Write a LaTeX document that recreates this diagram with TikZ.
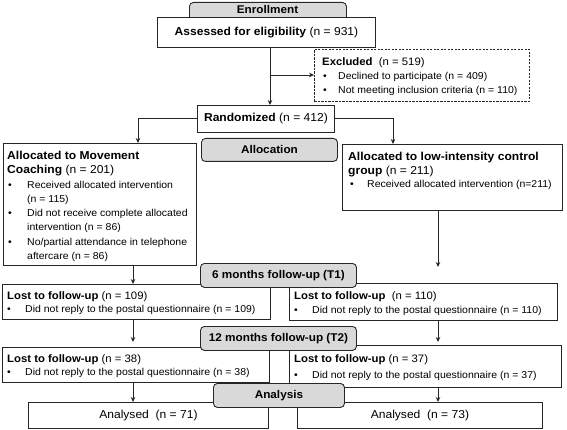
\documentclass[tikz,border=0pt]{standalone}
\usepackage{fontspec}
\setmainfont{Liberation Sans}[FakeStretch=1.05]
\usetikzlibrary{arrows.meta,calc}
\newcommand{\fbody}{\fontsize{10}{11}\selectfont}
\newcommand{\fhead}{\fontsize{10.8}{12}\selectfont}
\newcommand{\fbig}{\fontsize{11.5}{13}\selectfont}
\newcommand{\fstage}{\fontsize{11.2}{13}\selectfont}
\tikzset{
 box/.style={draw=black!85, line width=0.9pt, fill=white, inner sep=0pt, anchor=north west},
 dbox/.style={box, dash pattern=on 2.2pt off 1.3pt},
 stage/.style={box, fill=black!15, rounded corners=4pt, font=\fstage\bfseries},
 arr/.style={-{Stealth[length=5pt,width=4.5pt]}, line width=0.9pt, draw=black!85},
 tx/.style={anchor=base west, inner sep=0pt, font=\fbody},
 hl/.style={anchor=base west, inner sep=0pt, font=\fhead},
 hb/.style={anchor=base west, inner sep=0pt, font=\fbig},
 bl/.style={anchor=base west, inner sep=0pt, font=\fbody},
 ctr/.style={inner sep=0pt},
}
\begin{document}
\begin{tikzpicture}[x=1pt,y=-1pt]
\useasboundingbox (0,0) rectangle (567,430);
% ---------- Enrollment ----------
\node[stage, minimum width=157, minimum height=24] (enr) at (189,2) {};
\node[ctr, font=\fstage\bfseries] (enrt) at (267.5,10) {Enrollment};
\node[box, minimum width=218, minimum height=30, font=\fbig] (assess) at (157,17) {\textbf{Assessed for eligibility} (n = 931)};
% ---------- Excluded ----------
\node[dbox, minimum width=215, minimum height=52] (excl) at (314,49) {};
\node[hl] (ex1) at (322,66) {\textbf{Excluded}\ \ (n = 519)};
\node[bl] (ex2b) at (323,80) {•};
\node[tx] (ex2) at (338,80) {Declined to participate (n = 409)};
\node[bl] (ex3b) at (323,94) {•};
\node[tx] (ex3) at (338,94) {Not meeting inclusion criteria (n = 110)};
% ---------- Randomized / Allocation ----------
\node[box, minimum width=137, minimum height=27, font=\fbig] (rand) at (197,105) {\textbf{Randomized} (n = 412)};
\node[stage, minimum width=136, minimum height=23] (alloc) at (201,138) {Allocation};
% ---------- Left allocation ----------
\node[box, minimum width=193, minimum height=122] (lal) at (3,143) {};
\node[hb] (la1) at (7,160) {\textbf{Allocated to Movement}};
\node[hb] (la2) at (7,174) {\textbf{Coaching} (n = 201)};
\node[bl] (la3b) at (8,188.5) {•};
\node[tx] (la3) at (27,188.5) {Received allocated intervention};
\node[tx] (la4) at (27,202.5) {(n = 115)};
\node[bl] (la5b) at (8,217) {•};
\node[tx] (la5) at (27,217) {Did not receive complete allocated};
\node[tx] (la6) at (27,231) {intervention (n = 86)};
\node[bl] (la7b) at (8,245.5) {•};
\node[tx] (la7) at (27,245.5) {No/partial attendance in telephone};
\node[tx] (la8) at (27,259.5) {aftercare (n = 86)};
% ---------- Right allocation ----------
\node[box, minimum width=220, minimum height=66] (ral) at (342,144) {};
\node[hb] (ra1) at (348,161) {\textbf{Allocated to low-intensity control}};
\node[hb] (ra2) at (348,175) {\textbf{group} (n = 211)};
\node[bl] (ra3b) at (350,188) {•};
\node[tx] (ra3) at (367,188) {Received allocated intervention (n=211)};
% ---------- 6 months ----------
\node[box, minimum width=268, minimum height=35] (l1l) at (2,284) {};
\node[hl] (l1l1) at (7,299) {\textbf{Lost to follow-up} (n = 109)};
\node[bl] (l1l2b) at (7,312.5) {•};
\node[tx] (l1l2) at (25,312.5) {Did not reply to the postal questionnaire (n = 109)};
\node[box, minimum width=268, minimum height=37] (l1r) at (289,283) {};
\node[hl] (l1r1) at (294,299) {\textbf{Lost to follow-up}\ \ (n = 110)};
\node[bl] (l1r2b) at (294,313) {•};
\node[tx] (l1r2) at (312,313) {Did not reply to the postal questionnaire (n = 110)};
\node[stage, minimum width=156, minimum height=24] (six) at (200,263) {6 months follow-up (T1)};
% ---------- 12 months ----------
\node[box, minimum width=267, minimum height=35] (l2l) at (2,347) {};
\node[hl] (l2l1) at (7,362) {\textbf{Lost to follow-up} (n = 38)};
\node[bl] (l2l2b) at (7,375.5) {•};
\node[tx] (l2l2) at (25,375.5) {Did not reply to the postal questionnaire (n = 38)};
\node[box, minimum width=272, minimum height=42] (l2r) at (289,345) {};
\node[hl] (l2r1) at (294,362) {\textbf{Lost to follow-up} (n = 37)};
\node[bl] (l2r2b) at (294,378) {•};
\node[tx] (l2r2) at (312,378) {Did not reply to the postal questionnaire (n = 37)};
\node[stage, minimum width=156, minimum height=24] (twelve) at (200,326) {12 months follow-up (T2)};
% ---------- Analysis ----------
\node[box, minimum width=240, minimum height=26, font=\fbig] (anl) at (28,402) {Analysed\ \ (n = 71)};
\node[box, minimum width=245, minimum height=26, font=\fbig] (anr) at (297,402) {Analysed\ \ (n = 73)};
\node[stage, minimum width=131, minimum height=24] (analysis) at (213,383) {Analysis};
% ---------- connectors ----------
\coordinate (cA) at (270,0);
\coordinate (cB) at (270,75);
\coordinate (cL) at (133,0);
\coordinate (cLt) at (138,0);
\coordinate (cRt) at (393,0);
\coordinate (cR) at (438,0);
\draw[arr] (assess.south -| cA) -- (rand.north -| cA);
\draw[arr] (cB) -- (cB -| excl.west);
\draw[arr] (rand.west) -| (lal.north -| cLt);
\draw[arr] (rand.east) -| (ral.north -| cRt);
\draw[arr] (lal.south -| cL) -- (l1l.north -| cL);
\draw[arr, shorten >=16pt] (ral.south -| cR) -- (l1r.north -| cR);
\draw[arr, shorten >=5pt] (l1l.south -| cL) -- (l2l.north -| cL);
\draw[arr, shorten >=3pt] (l1r.south -| cR) -- (l2r.north -| cR);
\draw[arr] (l2l.south -| cL) -- (anl.north -| cL);
\draw[arr] (l2r.south -| cR) -- (anr.north -| cR);
\end{tikzpicture}
\end{document}
